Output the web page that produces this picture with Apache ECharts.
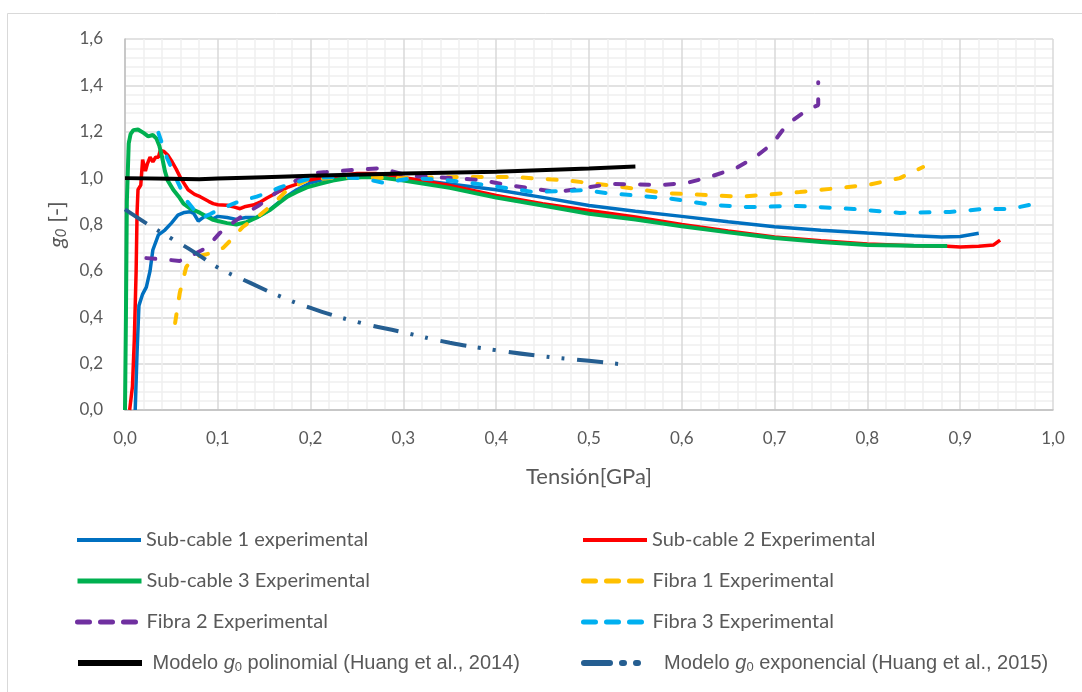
<!DOCTYPE html>
<html>
<head>
<meta charset="utf-8">
<script src="https://cdn.jsdelivr.net/npm/echarts@6/dist/echarts.min.js"></script>
<style>
  html, body { margin: 0; padding: 0; background: #fff; }
  #chart { width: 1082px; height: 692px; }
</style>
</head>
<body>
<div id="chart"></div>
<script>
// tension [GPa] vs g0 [-]
const sub1 = [[0.011,0],[0.013,0.25],[0.015,0.45],[0.019,0.5],[0.023,0.53],[0.027,0.6],[0.030,0.69],[0.036,0.755],[0.043,0.776],[0.050,0.806],[0.057,0.84],[0.064,0.852],[0.070,0.855],[0.074,0.848],[0.079,0.815],[0.084,0.83],[0.088,0.84],[0.095,0.825],[0.10,0.835],[0.11,0.83],[0.12,0.822],[0.13,0.83],[0.142,0.83],[0.155,0.86],[0.17,0.91],[0.185,0.95],[0.20,0.98],[0.22,1.0],[0.25,1.015],[0.28,1.01],[0.30,1.0],[0.35,0.975],[0.40,0.95],[0.45,0.917],[0.50,0.882],[0.55,0.857],[0.60,0.835],[0.65,0.812],[0.70,0.79],[0.75,0.775],[0.80,0.763],[0.85,0.752],[0.88,0.746],[0.90,0.748],[0.92,0.762]]
const sub2 = [[0.005,0],[0.008,0.1],[0.010,0.3],[0.012,0.6],[0.013,0.85],[0.014,0.95],[0.017,0.97],[0.019,1.08],[0.022,1.03],[0.024,1.06],[0.027,1.09],[0.030,1.07],[0.033,1.09],[0.036,1.09],[0.038,1.12],[0.042,1.115],[0.046,1.10],[0.05,1.075],[0.055,1.04],[0.06,1.0],[0.068,0.95],[0.075,0.93],[0.081,0.92],[0.09,0.90],[0.095,0.89],[0.10,0.885],[0.11,0.883],[0.118,0.875],[0.124,0.868],[0.13,0.878],[0.138,0.884],[0.145,0.895],[0.153,0.914],[0.165,0.94],[0.175,0.96],[0.186,0.975],[0.196,0.99],[0.21,1.0],[0.23,1.01],[0.25,1.02],[0.27,1.02],[0.29,1.01],[0.30,1.003],[0.35,0.968],[0.40,0.925],[0.45,0.89],[0.50,0.86],[0.55,0.832],[0.60,0.80],[0.65,0.772],[0.70,0.746],[0.75,0.73],[0.80,0.716],[0.85,0.708],[0.886,0.706],[0.90,0.703],[0.92,0.706],[0.936,0.712],[0.943,0.733]]
const sub3 = [[0.0,0],[0.001,0.4],[0.002,0.9],[0.004,1.15],[0.006,1.19],[0.009,1.207],[0.014,1.21],[0.02,1.195],[0.025,1.18],[0.03,1.186],[0.034,1.17],[0.037,1.14],[0.04,1.09],[0.043,1.03],[0.046,0.99],[0.052,0.95],[0.058,0.92],[0.063,0.89],[0.07,0.87],[0.081,0.85],[0.09,0.83],[0.095,0.82],[0.10,0.815],[0.11,0.806],[0.12,0.80],[0.125,0.805],[0.131,0.81],[0.142,0.83],[0.156,0.862],[0.165,0.89],[0.175,0.92],[0.185,0.94],[0.196,0.96],[0.21,0.975],[0.224,0.99],[0.24,1.0],[0.26,1.005],[0.28,1.0],[0.30,0.99],[0.35,0.958],[0.40,0.916],[0.45,0.882],[0.50,0.846],[0.55,0.822],[0.60,0.792],[0.65,0.766],[0.70,0.742],[0.75,0.725],[0.80,0.712],[0.85,0.708],[0.886,0.707]]
const fibra1 = [[0.054,0.375],[0.059,0.505],[0.066,0.617],[0.075,0.66],[0.088,0.672],[0.096,0.68],[0.106,0.70],[0.117,0.745],[0.127,0.79],[0.142,0.83],[0.16,0.89],[0.175,0.95],[0.196,0.99],[0.22,1.0],[0.25,1.005],[0.296,1.0],[0.361,1.005],[0.418,1.005],[0.476,0.99],[0.52,0.97],[0.584,0.935],[0.663,0.92],[0.727,0.94],[0.80,0.97],[0.835,1.0],[0.86,1.048]]
const fibra2 = [[0.023,0.655],[0.04,0.65],[0.059,0.643],[0.077,0.677],[0.088,0.70],[0.102,0.763],[0.117,0.81],[0.131,0.85],[0.145,0.884],[0.167,0.95],[0.189,1.0],[0.196,1.02],[0.217,1.026],[0.246,1.035],[0.275,1.043],[0.307,1.009],[0.354,1.0],[0.383,0.992],[0.412,0.97],[0.436,0.957],[0.465,0.94],[0.494,0.957],[0.523,0.975],[0.577,0.97],[0.605,0.979],[0.63,1.005],[0.659,1.044],[0.679,1.09],[0.698,1.15],[0.713,1.23],[0.735,1.294],[0.747,1.315],[0.747,1.414]]
const fibra3 = [[0.036,1.195],[0.045,1.09],[0.056,0.99],[0.066,0.905],[0.075,0.86],[0.084,0.83],[0.092,0.845],[0.10,0.862],[0.108,0.875],[0.117,0.89],[0.127,0.905],[0.142,0.92],[0.155,0.94],[0.167,0.96],[0.183,0.98],[0.2,1.0],[0.23,1.005],[0.255,1.0],[0.278,0.98],[0.31,1.0],[0.35,0.99],[0.39,0.97],[0.44,0.94],[0.497,0.948],[0.52,0.935],[0.55,0.925],[0.584,0.914],[0.612,0.897],[0.634,0.884],[0.673,0.875],[0.724,0.88],[0.785,0.867],[0.835,0.85],[0.889,0.854],[0.925,0.867],[0.954,0.867],[0.979,0.888]]
const polinomial = [[0,1.0],[0.05,0.997],[0.08,0.995],[0.1,0.998],[0.15,1.004],[0.2,1.01],[0.3,1.02],[0.4,1.028],[0.5,1.042],[0.55,1.05]]
const exponencial = [[0,0.865],[0.025,0.8],[0.05,0.74],[0.075,0.68],[0.1,0.615],[0.135,0.548],[0.169,0.487],[0.2,0.44],[0.25,0.38],[0.3,0.335],[0.35,0.29],[0.4,0.258],[0.45,0.232],[0.5,0.212],[0.54,0.195]]

const names = [
  'Sub-cable 1 experimental', 'Sub-cable 2 Experimental',
  'Sub-cable 3 Experimental', 'Fibra 1 Experimental',
  'Fibra 2 Experimental', 'Fibra 3 Experimental',
  'Modelo g0 polinomial (Huang et al., 2014)', 'Modelo g0 exponencial (Huang et al., 2015)'
]

const txt = '#595959'
const dash = [9, 16]
const dashDotDot = [26, 12, 3, 12, 3, 13]

function line(name, data, color, opts) {
  return Object.assign({
    name: name,
    type: 'line',
    data: data,
    showSymbol: false,
    symbol: 'none',
    animation: false,
    color: color,
    lineStyle: { width: 3.5, color: color }
  }, opts || {})
}

const series = [
  line(names[0], sub1, '#0070C0'),
  line(names[1], sub2, '#FF0000'),
  line(names[2], sub3, '#00B050', { lineStyle: { width: 4, color: '#00B050' } }),
  line(names[3], fibra1, '#FFC000', { lineStyle: { width: 4, color: '#FFC000', type: dash, cap: 'round' } }),
  line(names[4], fibra2, '#7030A0', { lineStyle: { width: 4, color: '#7030A0', type: dash, cap: 'round' } }),
  line(names[5], fibra3, '#00B0F0', { lineStyle: { width: 4, color: '#00B0F0', type: dash, cap: 'round' } }),
  line(names[6], polinomial, '#000000', { lineStyle: { width: 4, color: '#000000' } }),
  line(names[7], exponencial, '#255E91', { smooth: true, lineStyle: { width: 4, color: '#255E91', type: dashDotDot } })
]

const rich = {
  t: { fontFamily: 'Liberation Sans', fontSize: 20, color: txt },
  g: { fontFamily: 'Liberation Sans', fontSize: 20, fontStyle: 'italic', color: txt },
  s: { fontFamily: 'Liberation Sans', fontSize: 13, color: txt, verticalAlign: 'bottom', padding: [9, 0, 0, 0] }
}

// legend icon line style per entry
const legendLines = [
  { width: 4 }, { width: 4 }, { width: 5 },
  { width: 5, type: [12, 11], cap: 'round' },
  { width: 5, type: [12, 11], cap: 'round' },
  { width: 5, type: [12, 11], cap: 'round' },
  { width: 6 },
  { width: 6, type: [26, 12, 2, 12, 2, 20], cap: 'round' }
]

function legendItem(i, left, top) {
  return {
    data: [names[i]],
    left: left,
    top: top,
    itemWidth: 64,
    itemHeight: 14,
    itemGap: 0,
    itemStyle: { opacity: 0 },
    lineStyle: legendLines[i],
    textStyle: { fontFamily: 'Lato', fontSize: 20, color: txt, rich: rich },
    formatter: function (n) {
      if (n === names[6]) return '{t| Modelo }{g|g}{s|0}{t| polinomial (Huang et al., 2014)}'
      if (n === names[7]) return '{t|  Modelo }{g|g}{s|0}{t| exponencial (Huang et al., 2015)}'
      return n
    }
  }
}

const rows = [525, 566, 607, 648]
const legends = []
for (let i = 0; i < 8; i++) {
  legends.push(legendItem(i, i % 2 === 0 ? 70 : 576, rows[Math.floor(i / 2)]))
}

function fmt(v) { return v.toFixed(1).replace('.', ',') }

const option = {
  backgroundColor: '#fff',
  animation: false,
  grid: { left: 125, right: 29, top: 39, bottom: 282 },
  legend: legends,
  graphic: [{
    type: 'rect',
    shape: { x: 7.5, y: 13.5, width: 1100, height: 700 },
    style: { fill: 'none', stroke: '#d9d9d9', lineWidth: 1 },
    silent: true
  }],
  xAxis: {
    type: 'value', min: 0, max: 1, interval: 0.1,
    name: 'Tensión[GPa]', nameLocation: 'middle', nameGap: 56,
    nameTextStyle: { fontFamily: 'Lato', fontSize: 22, color: txt },
    axisLine: { show: true, lineStyle: { color: '#bfbfbf', width: 1.5 } },
    axisTick: { show: false },
    axisLabel: { formatter: fmt, fontFamily: 'Lato', fontSize: 17, color: txt, margin: 20 },
    splitLine: { show: true, lineStyle: { color: '#d9d9d9', width: 1.5 } },
    minorTick: { show: false, splitNumber: 5 },
    minorSplitLine: { show: true, lineStyle: { color: '#f0f0f0', width: 1.5 } }
  },
  yAxis: {
    type: 'value', min: 0, max: 1.6, interval: 0.2,
    name: '{g|g}{s|0}{t| [-]}', nameLocation: 'middle', nameGap: 56, nameRotate: 90,
    nameTextStyle: {
      rich: {
        t: { fontFamily: 'Lato', fontSize: 22, color: txt },
        g: { fontFamily: 'Lato', fontSize: 22, fontStyle: 'italic', color: txt },
        s: { fontFamily: 'Lato', fontSize: 15, fontStyle: 'italic', color: txt, verticalAlign: 'bottom', padding: [9, 0, 0, 0] }
      }
    },
    axisLine: { show: true, lineStyle: { color: '#bfbfbf', width: 1.5 } },
    axisTick: { show: false },
    axisLabel: { formatter: fmt, fontFamily: 'Lato', fontSize: 17, color: txt, margin: 22 },
    splitLine: { show: true, lineStyle: { color: '#d9d9d9', width: 1.5 } },
    minorTick: { show: false, splitNumber: 5 },
    minorSplitLine: { show: true, lineStyle: { color: '#f0f0f0', width: 1.5 } }
  },
  series: series
}

const chart = echarts.init(document.getElementById('chart'))
chart.setOption(option)
</script>
</body>
</html>
